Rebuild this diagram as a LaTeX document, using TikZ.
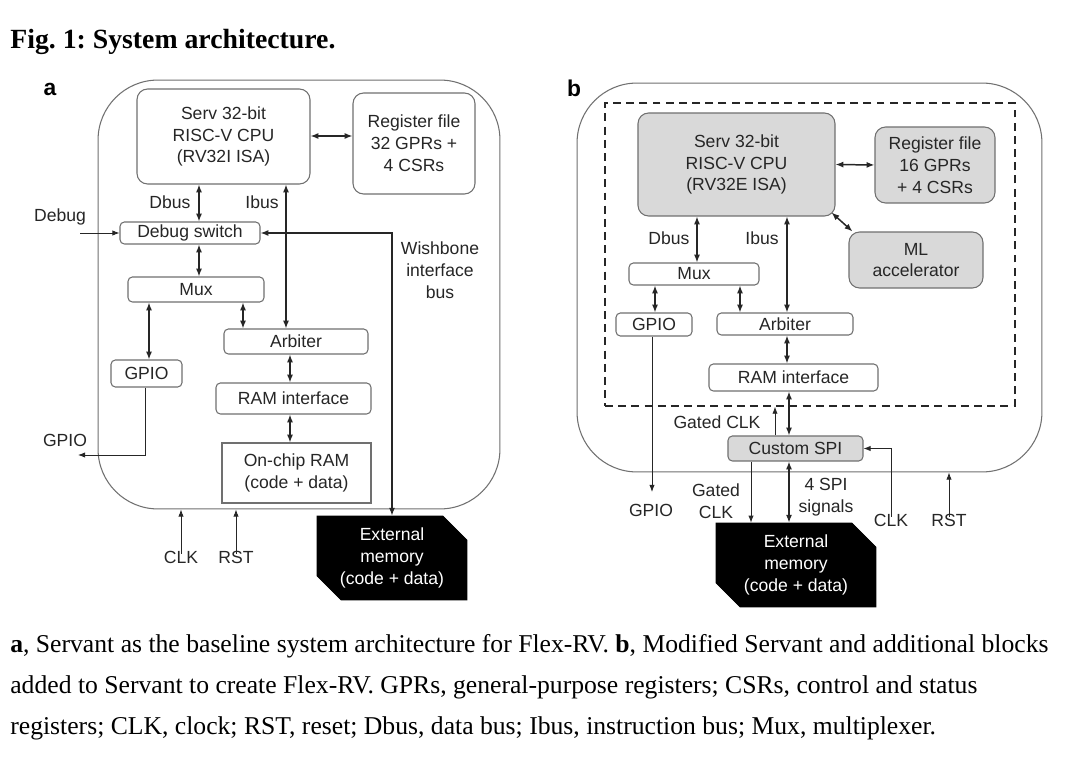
\documentclass[tikz,border=0pt]{standalone}
\usepackage{fontspec}
\setmainfont{Liberation Serif}
\setsansfont{Liberation Sans}
\usetikzlibrary{arrows.meta, shapes.misc, positioning}
\definecolor{boxline}{HTML}{707070}
\definecolor{boxgray}{HTML}{D9D9D9}
\definecolor{ink}{HTML}{262626}
\frenchspacing

\begin{document}
\begin{tikzpicture}[x=0.02cm, y=-0.02cm,
  every node/.style={font=\sffamily\fontsize{10}{12.4}\selectfont, text=ink, align=center, inner sep=0pt},
  blk/.style={rectangle, rounded corners=2.5pt, draw=boxline, line width=0.6pt, fill=white},
  cpu/.style={blk, rounded corners=6pt},
  gblk/.style={fill=boxgray},
  outer/.style={rectangle, rounded corners=1.2cm, draw=boxline, line width=0.6pt},
  extmem/.style={chamfered rectangle, chamfered rectangle corners={north east, south west}, chamfered rectangle xsep=0.24cm, chamfered rectangle ysep=0.24cm, fill=black, draw=black, text=white},
  arr/.style={-{Latex[length=4pt,width=3pt]}, draw=ink, line width=0.5pt},
  dbl/.style={{Latex[length=4.5pt,width=3.5pt]}-{Latex[length=4.5pt,width=3.5pt]}, draw=ink, line width=0.85pt},
  panel/.style={font=\sffamily\bfseries\fontsize{13}{15}\selectfont, text=black},
  capt/.style={anchor=base west, font=\rmfamily\fontsize{14.6}{17}\selectfont, text=black}]
\fill[white] (0,0) rectangle (1080,763);
\useasboundingbox (0,0) rectangle (1080,763);

\node[anchor=base west, font=\rmfamily\bfseries\fontsize{15.8}{18}\selectfont, text=black] (title) at (10,49) {Fig. 1: System architecture.};

% panel a
\node[panel] (pa) at (50,89) {a};
\node[outer, minimum width=8.04cm, minimum height=8.58cm] (outA) at (299,294.5) {};
\node[blk, cpu, minimum width=3.46cm, minimum height=1.9cm] (cpuA) at (223.5,136.5) {Serv 32-bit\\RISC-V CPU\\(RV32I ISA)};
\node[blk, cpu, minimum width=2.44cm, minimum height=2.02cm] (regA) at (414,143.5) {Register file\\32 GPRs +\\4 CSRs};
\node[blk, minimum width=2.8cm, minimum height=0.44cm] (dbgsw) at (190,233) {Debug switch};
\node[blk, minimum width=2.72cm, minimum height=0.5cm] (muxA) at (196,289.5) {Mux};
\node[blk, minimum width=2.88cm, minimum height=0.5cm] (arbA) at (296,341.5) {Arbiter};
\node[blk, minimum width=1.42cm, minimum height=0.54cm] (gpioA) at (146.5,373.5) {GPIO};
\node[blk, minimum width=3.1cm, minimum height=0.62cm] (ramifA) at (293.5,398.5) {RAM interface};
\node[blk, rounded corners=0pt, minimum width=2.98cm, minimum height=1.2cm] (ramA) at (296.5,473) {On-chip RAM\\(code + data)};
\node[extmem, minimum width=3cm, minimum height=1.52cm] (extA) at (392,558) {External\\memory\\(code + data)};

\node (dbusA) at (170,202) {Dbus};
\node (ibusA) at (262,202) {Ibus};
\node (debug) at (60,217) {Debug};
\node (wish) at (440,270) {Wishbone\\interface\\bus};
\node (gpioAl) at (65,440) {GPIO};
\node (clkA) at (181,557) {CLK};
\node (rstA) at (236,557) {RST};
\coordinate (dbgin) at (80,233);
\coordinate (gpioAo) at (78,455);

\draw[dbl] (cpuA.east |- 0,136) -- (regA.west |- 0,136);
\draw[dbl] (199,0 |- cpuA.south) -- (199,0 |- dbgsw.north);
\draw[dbl] (286,0 |- cpuA.south) -- (286,0 |- arbA.north);
\draw[arr] (dbgin) -- (dbgsw.west);
\draw[dbl] (dbgsw.east) -| (extA.north);
\draw[dbl] (199,0 |- dbgsw.south) -- (199,0 |- muxA.north);
\draw[dbl] (149,0 |- muxA.south) -- (149,0 |- gpioA.north);
\draw[dbl] (243,0 |- muxA.south) -- (243,0 |- arbA.north);
\draw[arr] (145,0 |- gpioA.south) |- (gpioAo);
\draw[dbl] (290,0 |- arbA.south) -- (290,0 |- ramifA.north);
\draw[dbl] (290,0 |- ramifA.south) -- (290,0 |- ramA.north);
\draw[arr] ([yshift=-2pt]clkA.north) -- (clkA.north |- outA.south);
\draw[arr] ([yshift=-2pt]rstA.north) -- (rstA.north |- outA.south);

% panel b
\node[panel] (pb) at (574,88) {b};
\node[outer, minimum width=9.3cm, minimum height=7.78cm] (outB) at (809.5,277.5) {};
\node[draw=ink, line width=0.8pt, dash pattern=on 4.5pt off 3pt, minimum width=8.2cm, minimum height=6.06cm] (dashB) at (810,254.5) {};
\node[blk, cpu, gblk, minimum width=3.94cm, minimum height=2.06cm] (cpuB) at (736.5,164.5) {Serv 32-bit\\RISC-V CPU\\(RV32E ISA)};
\node[blk, cpu, gblk, minimum width=2.4cm, minimum height=1.52cm] (regB) at (935,165) {Register file\\16 GPRs\\+ 4 CSRs};
\node[blk, cpu, gblk, minimum width=2.68cm, minimum height=1.12cm] (mlB) at (916,260) {ML\\accelerator};
\node[blk, minimum width=2.6cm, minimum height=0.44cm] (muxB) at (694,274) {Mux};
\node[blk, minimum width=1.52cm, minimum height=0.46cm] (gpioB) at (654,324.5) {GPIO};
\node[blk, minimum width=2.72cm, minimum height=0.44cm] (arbB) at (785,324) {Arbiter};
\node[blk, minimum width=3.38cm, minimum height=0.54cm] (ramifB) at (793.5,377.5) {RAM interface};
\node[blk, gblk, minimum width=2.7cm, minimum height=0.5cm] (spiB) at (795.5,448.5) {Custom SPI};
\node[extmem, minimum width=3.2cm, minimum height=1.48cm] (extB) at (796,565) {External\\memory\\(code + data)};

\node (dbusB) at (669,238) {Dbus};
\node (ibusB) at (762,238) {Ibus};
\node (gclkB) at (717,422) {Gated CLK};
\node (gclkB2) at (716,501) {Gated\\CLK};
\node (spisig) at (826,497) {4 SPI\\signals};
\node (gpioBl) at (651,510) {GPIO};
\node (clkB) at (891,520) {CLK};
\node (rstB) at (949,520) {RST};
\coordinate (gpioBo) at (652,492);

\draw[dbl] (cpuB.east) -- (regB.west);
\draw[dbl] ([shift={(-4,-4)}]cpuB.south east) -- ([shift={(4,0)}]mlB.north west);
\draw[dbl] (697,0 |- cpuB.south) -- (697,0 |- muxB.north);
\draw[dbl] (787,0 |- cpuB.south) -- (787,0 |- arbB.north);
\draw[dbl] (655,0 |- muxB.south) -- (655,0 |- gpioB.north);
\draw[dbl] (740,0 |- muxB.south) -- (740,0 |- arbB.north);
\draw[dbl] (787,0 |- arbB.south) -- (787,0 |- ramifB.north);
\draw[dbl] (789,0 |- ramifB.south) -- (789,0 |- spiB.north);
\draw[arr] (775,0 |- spiB.north) -- (775,0 |- dashB.south);
\draw[dbl] (789,0 |- spiB.south) -- (789,0 |- extB.north);
\draw[arr] (751,0 |- spiB.south) -- (751,0 |- extB.north);
\draw[arr] (652,0 |- gpioB.south) -- (gpioBo);
\draw[arr] ([yshift=-2pt]clkB.north) |- (spiB.east);
\draw[arr] ([yshift=-2pt]rstB.north) -- (rstB.north |- outB.south);

% caption
\node[capt] (cap1) at (10,653) {\textbf{a}, Servant as the baseline system architecture for Flex-RV. \textbf{b}, Modified Servant and additional blocks};
\node[capt] (cap2) at (10,694) {added to Servant to create Flex-RV. GPRs, general-purpose registers; CSRs, control and status};
\node[capt] (cap3) at (10,735) {registers; CLK, clock; RST, reset; Dbus, data bus; Ibus, instruction bus; Mux, multiplexer.};
\end{tikzpicture}
\end{document}
